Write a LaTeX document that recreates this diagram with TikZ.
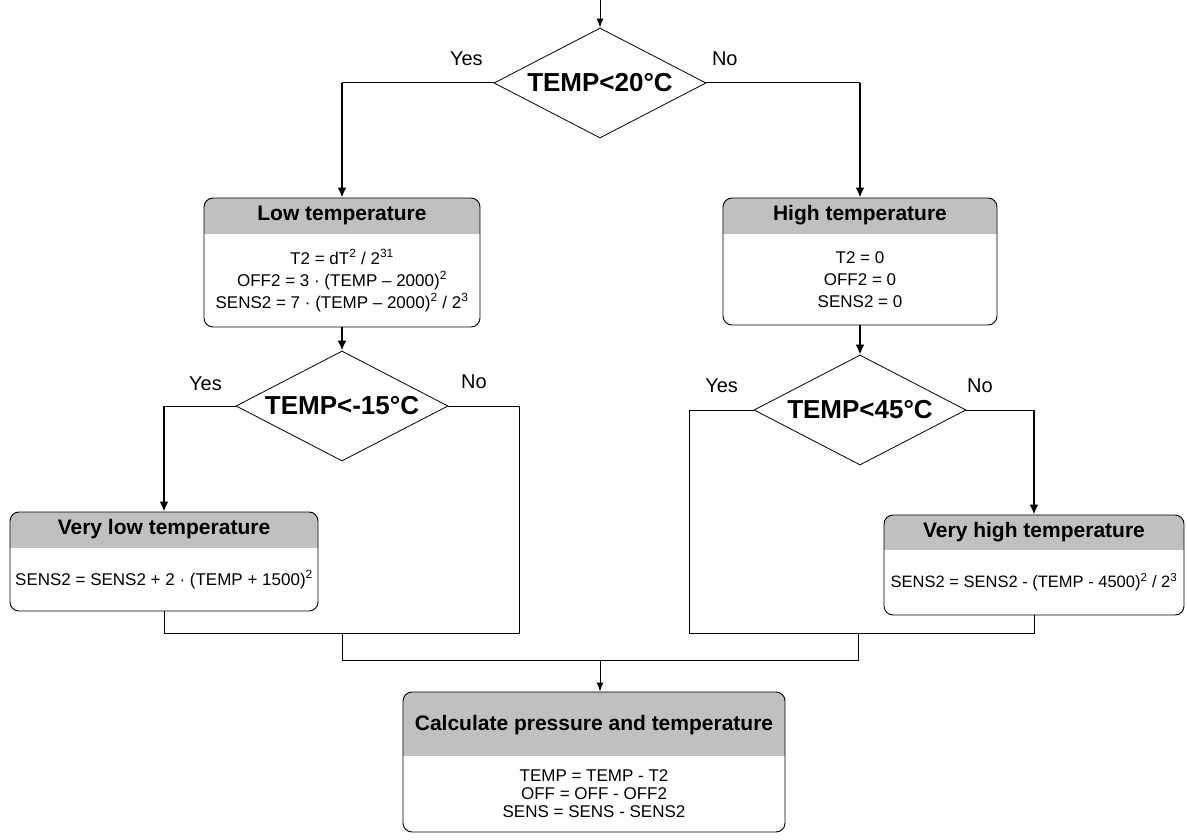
\documentclass[tikz,border=0pt]{standalone}
\usepackage{fontspec}
\setmainfont{Liberation Sans}
\usetikzlibrary{arrows.meta,positioning,shapes.geometric}

\definecolor{hdrgray}{RGB}{192,192,192}

\begin{document}
\begin{tikzpicture}[x=1pt,y=-1pt,
    ln/.style={line width=1pt},
    arr/.style={-{Latex[length=10pt,width=9pt]},line width=2.4pt},
    tarr/.style={-{Latex[length=9pt,width=7pt]},line width=1pt},
    dec/.style={draw,diamond,aspect=1.9,inner sep=0pt,line width=0.8pt,
        minimum width=212pt,minimum height=110pt,
        font=\fontsize{26}{30}\selectfont\bfseries},
    box/.style n args={3}{draw,rounded corners=9pt,line width=0.9pt,inner sep=0pt,
        minimum width=#1pt,minimum height=#2pt,
        path picture={\fill[hdrgray,sharp corners] (path picture bounding box.north west)
            rectangle ([yshift=-#3pt]path picture bounding box.north east);}},
    ttl/.style={font=\fontsize{21}{25}\selectfont\bfseries},
    body/.style={align=center,font=\fontsize{17}{22}\selectfont},
    lbl/.style={font=\fontsize{20}{24}\selectfont}]

    \useasboundingbox (0,0) rectangle (1187,840);

    % decisions
    \coordinate (start) at (600,0);
    \node[dec] (d_1) at (600,83) {TEMP<20°C};
    \node[dec] (d_2) at (342,406) {TEMP<-15°C};
    \node[dec] (d_3) at (860,410) {TEMP<45°C};

    % boxes
    \node[box={276}{129}{36}] (b_low) at (342,262.5) {};
    \node[ttl] (t_low) at ([yshift=-18pt]b_low.north) {Low temperature};
    \node[body] (s_low) at ([yshift=-18pt]b_low.center)
        {T2 = dT\textsuperscript{2} / 2\textsuperscript{31}\\
         OFF2 = 3 · (TEMP – 2000)\textsuperscript{2}\\
         SENS2 = 7 · (TEMP – 2000)\textsuperscript{2} / 2\textsuperscript{3}};

    \node[box={274}{127}{36}] (b_high) at (860,261.5) {};
    \node[ttl] (t_high) at ([yshift=-18pt]b_high.north) {High temperature};
    \node[body] (s_high) at ([yshift=-18pt]b_high.center)
        {T2 = 0\\ OFF2 = 0\\ SENS2 = 0};

    \node[box={308}{99}{36}] (b_vlow) at (164,561.5) {};
    \node[ttl] (t_vlow) at ([yshift=-18pt]b_vlow.north) {Very low temperature};
    \node[body] (s_vlow) at ([yshift=-18pt]b_vlow.center)
        {SENS2 = SENS2 + 2 · (TEMP + 1500)\textsuperscript{2}};

    \node[box={300}{100}{35}] (b_vhigh) at (1034,565) {};
    \node[ttl] (t_vhigh) at ([yshift=-17.5pt]b_vhigh.north) {Very high temperature};
    \node[body,font=\fontsize{16.5}{22}\selectfont] (s_vhigh) at ([yshift=-17.5pt]b_vhigh.center)
        {SENS2 = SENS2 - (TEMP - 4500)\textsuperscript{2} / 2\textsuperscript{3}};

    \node[box={382}{140}{64}] (b_calc) at (594,762) {};
    \node[ttl] (t_calc) at ([yshift=-34pt]b_calc.north) {Calculate pressure and temperature};
    \node[body,font=\fontsize{17}{18}\selectfont] (s_calc) at ([yshift=-32pt]b_calc.center)
        {TEMP = TEMP - T2\\ OFF = OFF - OFF2\\ SENS = SENS - SENS2};

    % joins
    \coordinate (j_1) at (342,633);
    \coordinate (j_2) at (858,633);
    \coordinate (j_m) at (600,660);

    % connectors
    \draw[tarr] (start) -- (d_1.north);
    \draw[ln] (d_1.west) -- node[lbl,above=13pt,pos=0.18] {Yes} (d_1.west -| b_low.north);
    \draw[arr] (d_1.west -| b_low.north) -- (b_low.north);
    \draw[ln] (d_1.east) -- node[lbl,above=13pt,pos=0.12] {No} (d_1.east -| b_high.north);
    \draw[arr] (d_1.east -| b_high.north) -- (b_high.north);

    \draw[arr] (b_low.south) -- (d_2.north);
    \draw[arr] (b_high.south) -- (d_3.north);

    \draw[ln] (d_2.west) -- node[lbl,above=11pt,pos=0.42] {Yes} (d_2.west -| b_vlow.north);
    \draw[arr] (d_2.west -| b_vlow.north) -- (b_vlow.north);
    \draw[ln] (d_2.east) -- node[lbl,above=13pt,pos=0.36] {No} ++(71,0) coordinate (n_2)
        -- (n_2 |- j_1) -- (b_vlow.south |- j_1) -- (b_vlow.south);

    \draw[ln] (d_3.west) -- node[lbl,above=13pt,pos=0.5] {Yes} ++(-64,0) coordinate (y_3)
        -- (y_3 |- j_2) -- (b_vhigh.south |- j_2) -- (b_vhigh.south);
    \draw[ln] (d_3.east) -- node[lbl,above=13pt,pos=0.2] {No} (d_3.east -| b_vhigh.north);
    \draw[arr] (d_3.east -| b_vhigh.north) -- (b_vhigh.north);

    \draw[ln] (j_1) -- (j_1 |- j_m) -- (j_2 |- j_m) -- (j_2);
    \draw[tarr] (j_m) -- (j_m |- b_calc.north);
\end{tikzpicture}
\end{document}
